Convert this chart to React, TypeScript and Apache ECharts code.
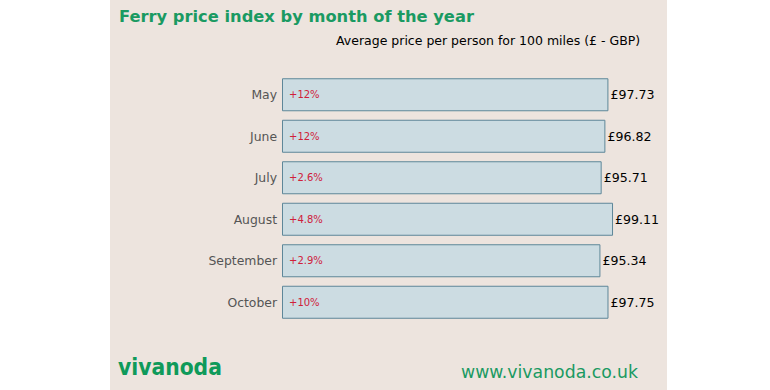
import React, { useEffect, useRef } from "react";
import * as echarts from "echarts";

const months = ["May", "June", "July", "August", "September", "October"];
const prices = [97.73, 96.82, 95.71, 99.11, 95.34, 97.75];
const changes = ["+12%", "+12%", "+2.6%", "+4.8%", "+2.9%", "+10%"];

const GREEN = "#1a9a62";
const FONT = "DejaVu Sans";

export default function App() {
  const ref = useRef<HTMLDivElement>(null);
  useEffect(() => {
    const chart = echarts.init(ref.current!, null, { renderer: "svg" });
    chart.setOption({
      animation: false,
      backgroundColor: "#ffffff",
      textStyle: { fontFamily: FONT },
      graphic: [
        { type: "rect", z: -10, shape: { x: 110, y: 0, width: 557, height: 390 }, style: { fill: "#ede4de" } },
        { type: "text", left: 119, top: 8, style: { text: "Ferry price index by month of the year", fill: GREEN, font: `bold 16.3px '${FONT}'` } },
        { type: "text", left: 336, top: 34, style: { text: "Average price per person for 100 miles (£ - GBP)", fill: "#000", font: `12.5px '${FONT}'` } },
        { type: "text", left: 118, top: 355, style: { text: "vivanoda", fill: "#0f9a5a", font: `bold 22.6px 'DejaVu Sans Condensed'` } },
        { type: "text", left: 461, top: 363, style: { text: "www.vivanoda.co.uk", fill: GREEN, font: `17.3px '${FONT}'` } },
      ],
      grid: { left: 282, top: 74, width: 334, height: 249, containLabel: false },
      xAxis: { type: "value", min: 0, max: 100, show: false },
      yAxis: {
        type: "category",
        data: months,
        inverse: true,
        axisLine: { show: false },
        axisTick: { show: false },
        axisLabel: { color: "#555", fontSize: 12.4, fontFamily: FONT, margin: 5 },
      },
      series: [
        {
          type: "bar",
          data: prices,
          barWidth: 33,
          itemStyle: { color: "#ccdce2", borderColor: "#5e8799", borderWidth: 1 },
          label: {
            show: true,
            position: "right",
            distance: 2,
            color: "#000",
            fontSize: 12.6,
            fontFamily: FONT,
            formatter: (p: any) => "£" + p.value.toFixed(2),
          },
        },
        {
          type: "bar",
          data: prices,
          barWidth: 33,
          barGap: "-100%",
          itemStyle: { color: "transparent" },
          label: {
            show: true,
            position: "insideLeft",
            distance: 7,
            color: "#d0203a",
            fontSize: 10,
            fontFamily: FONT,
            formatter: (p: any) => changes[p.dataIndex],
          },
        },
      ],
    });
    return () => chart.dispose();
  }, []);
  return <div ref={ref} style={{ position: "fixed", left: 0, top: 0, width: 770, height: 390 }} />;
}
